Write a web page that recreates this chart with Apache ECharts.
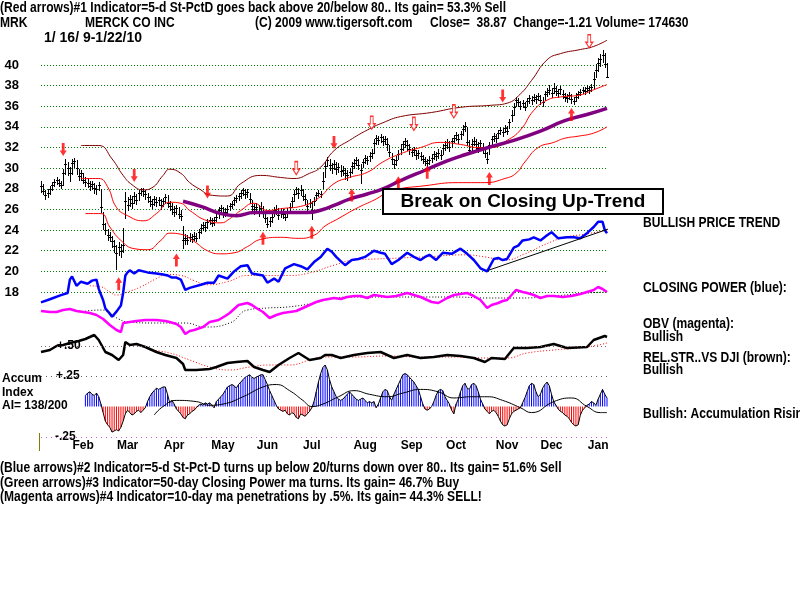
<!DOCTYPE html>
<html>
<head>
<meta charset="utf-8">
<script src="https://cdn.jsdelivr.net/npm/echarts@6/dist/echarts.min.js"></script>
<style>
  html, body { margin: 0; padding: 0; background: #fff; }
  #chart { width: 800px; height: 600px; }
</style>
</head>
<body>
<div id="chart"></div>
<script>
// MRK daily bars, 1/16/09 - 1/22/10 (256 trading days, index 0..255)
var closes = [
  28.3, 27.8, 27.4, 27.6, 28.0, 28.4, 28.7, 28.9, 28.6, 28.4,
  29.5, 30.4, 30.0, 29.5, 30.5, 30.7, 30.0, 29.2, 29.5, 28.9,
  28.7, 28.6, 28.3, 28.5, 28.1, 28.0, 28.4, 26.2, 24.6, 24.0,
  23.5, 23.3, 22.9, 22.5, 21.8, 22.4, 22.0, 22.6, 26.8, 26.4,
  27.0, 26.6, 27.3, 26.9, 27.6, 28.0, 27.8, 27.5, 27.2, 26.8,
  26.5, 27.0, 26.7, 26.9, 26.4, 26.8, 27.2, 26.6, 26.3, 26.0,
  25.8, 26.1, 25.6, 25.4, 23.0, 23.2, 23.0, 23.3, 23.1, 23.4,
  23.2, 23.8, 24.2, 24.5, 24.3, 24.8, 25.0, 24.7, 25.0, 25.3,
  25.9, 26.1, 25.7, 25.8, 26.0, 26.3, 26.5, 26.9, 27.1, 27.3,
  27.6, 27.9, 27.5, 27.7, 27.0, 26.3, 26.0, 26.2, 25.8, 26.1,
  25.7, 25.2, 24.6, 24.9, 25.3, 25.9, 26.0, 25.5, 25.8, 25.6,
  25.3, 25.8, 26.2, 26.8, 27.5, 28.0, 27.6, 27.9, 27.3, 27.0,
  26.3, 26.6, 25.9, 26.8, 27.4, 27.6, 27.5, 28.8, 30.2, 30.8,
  30.3, 30.0, 30.4, 29.9, 30.1, 29.7, 29.8, 29.5, 29.3, 29.6,
  30.2, 30.5, 30.8, 30.3, 29.8, 30.6, 31.0, 30.8, 31.2, 31.5,
  32.4, 32.9, 32.7, 33.0, 32.6, 32.8, 32.3, 31.6, 30.9, 30.4,
  30.8, 31.4, 31.9, 32.3, 32.6, 32.2, 31.9, 31.6, 31.8, 31.3,
  31.5, 31.2, 30.9, 30.7, 30.5, 30.8, 31.0, 31.4, 31.2, 31.5,
  31.3, 32.0, 32.2, 32.5, 32.1, 32.6, 32.9, 33.2, 32.8, 33.3,
  33.8, 34.1, 32.5, 31.8, 32.3, 32.6, 32.3, 32.0, 32.4, 31.9,
  31.5, 30.9, 32.2, 32.8, 33.1, 32.9, 33.4, 33.7, 33.5, 33.9,
  33.6, 34.5, 35.2, 35.9, 36.6, 36.4, 36.0, 36.3, 35.9, 36.5,
  36.8, 36.6, 36.9, 36.7, 37.0, 36.6, 36.4, 37.2, 37.4, 37.6,
  37.3, 37.8, 37.5, 37.3, 37.7, 37.2, 36.9, 36.8, 37.1, 36.7,
  36.5, 36.9, 37.2, 37.4, 37.6, 37.5, 37.8, 37.6, 37.9, 38.6,
  39.5, 40.2, 40.6, 41.0, 40.08, 38.87
];
var highs = [
  28.8, 28.5, 27.9, 28.0, 28.3, 28.7, 29.0, 29.1, 29.0, 28.8,
  29.9, 30.9, 30.6, 30.1, 30.9, 31.0, 30.8, 29.9, 29.8, 29.5,
  29.1, 29.0, 28.8, 28.8, 28.6, 28.4, 28.7, 28.0, 25.8, 24.7,
  24.1, 23.8, 23.4, 23.0, 22.6, 22.8, 22.7, 24.2, 27.7, 27.2,
  27.4, 27.3, 27.7, 27.5, 27.9, 28.1, 28.1, 27.9, 27.6, 27.3,
  27.0, 27.3, 27.2, 27.2, 27.0, 27.1, 27.5, 27.4, 26.8, 26.6,
  26.3, 26.4, 26.2, 25.9, 24.4, 23.6, 23.5, 23.7, 23.6, 23.8,
  23.7, 24.1, 24.6, 24.8, 24.8, 25.1, 25.3, 25.2, 25.3, 25.8,
  26.2, 26.4, 26.2, 26.1, 26.4, 26.6, 26.8, 27.2, 27.4, 27.6,
  27.9, 28.1, 28.0, 28.0, 27.6, 26.9, 26.5, 26.6, 26.4, 26.7,
  26.3, 25.8, 25.3, 25.3, 25.8, 26.2, 26.4, 26.1, 26.1, 26.0,
  25.8, 26.1, 26.6, 27.2, 27.9, 28.2, 28.1, 28.4, 28.0, 27.5,
  26.9, 27.0, 26.8, 27.2, 27.7, 27.9, 27.8, 29.6, 30.6, 31.1,
  30.9, 30.5, 30.8, 30.6, 30.5, 30.3, 30.2, 30.0, 29.8, 30.0,
  30.6, 30.9, 31.1, 30.9, 30.4, 30.9, 31.3, 31.2, 31.6, 31.9,
  32.8, 33.2, 33.1, 33.3, 33.1, 33.1, 32.9, 32.2, 31.5, 30.9,
  31.2, 31.8, 32.3, 32.6, 32.9, 32.7, 32.3, 32.0, 32.1, 31.8,
  31.8, 31.6, 31.3, 31.1, 30.9, 31.2, 31.4, 31.7, 31.6, 31.9,
  31.8, 32.3, 32.6, 32.8, 32.6, 32.9, 33.2, 33.5, 33.3, 33.6,
  34.2, 34.5, 34.0, 32.7, 32.8, 33.0, 32.8, 32.5, 32.7, 32.4,
  32.0, 31.6, 32.5, 33.1, 33.4, 33.3, 33.7, 34.0, 33.9, 34.2,
  34.1, 34.8, 35.6, 36.3, 36.9, 36.8, 36.5, 36.6, 36.4, 36.8,
  37.1, 37.0, 37.2, 37.1, 37.3, 37.1, 36.9, 37.5, 37.8, 38.1,
  37.8, 38.3, 38.0, 37.7, 38.0, 37.6, 37.3, 37.2, 37.4, 37.2,
  36.9, 37.3, 37.5, 37.7, 37.9, 37.9, 38.1, 38.0, 38.2, 39.3,
  40.1, 40.7, 41.1, 41.5, 41.2, 40.2
];
var lows = [
  27.7, 27.5, 27.0, 27.2, 27.5, 27.9, 28.3, 28.5, 28.3, 28.1,
  28.4, 29.4, 29.3, 28.8, 29.4, 30.1, 29.4, 28.9, 28.9, 28.6,
  28.3, 28.2, 27.9, 28.0, 27.6, 27.5, 27.9, 25.8, 24.1, 23.6,
  23.0, 22.9, 22.4, 21.9, 20.2, 21.6, 21.4, 21.9, 25.2, 25.9,
  26.3, 26.1, 26.6, 26.5, 26.9, 27.4, 27.3, 27.0, 26.7, 26.3,
  26.1, 26.4, 26.3, 26.4, 26.0, 26.3, 26.6, 26.2, 25.9, 25.6,
  25.4, 25.6, 25.2, 25.0, 22.3, 22.7, 22.7, 22.9, 22.8, 23.0,
  22.9, 23.2, 23.7, 24.0, 23.9, 24.2, 24.6, 24.4, 24.5, 24.9,
  25.2, 25.6, 25.3, 25.4, 25.6, 25.9, 26.1, 26.4, 26.7, 26.9,
  27.1, 27.4, 27.1, 27.2, 26.6, 25.9, 25.6, 25.8, 25.4, 25.7,
  25.3, 24.8, 24.3, 24.4, 24.8, 25.4, 25.6, 25.1, 25.3, 25.2,
  25.0, 25.3, 25.7, 26.2, 26.8, 27.5, 27.1, 27.4, 26.9, 26.5,
  25.9, 26.2, 25.1, 26.4, 26.9, 27.3, 27.2, 28.1, 29.1, 30.2,
  29.8, 29.5, 29.9, 29.4, 29.6, 29.2, 29.3, 29.0, 28.9, 29.1,
  29.5, 30.0, 30.3, 29.9, 28.6, 30.1, 30.5, 30.4, 30.7, 31.0,
  31.5, 32.3, 32.3, 32.5, 32.2, 32.3, 31.8, 31.2, 30.4, 30.0,
  30.3, 30.9, 31.4, 31.8, 32.1, 31.8, 31.4, 31.2, 31.3, 30.9,
  31.0, 30.8, 30.5, 30.3, 30.1, 30.4, 30.6, 30.9, 30.8, 31.0,
  30.9, 31.4, 31.8, 32.0, 31.7, 32.1, 32.5, 32.7, 32.4, 32.8,
  33.2, 33.6, 32.2, 31.5, 31.8, 32.2, 31.9, 31.6, 31.9, 31.5,
  31.1, 30.5, 31.4, 32.2, 32.6, 32.5, 32.9, 33.3, 33.1, 33.5,
  33.3, 33.9, 34.6, 35.2, 36.0, 36.0, 35.7, 35.9, 35.6, 36.0,
  36.3, 36.2, 36.5, 36.3, 36.6, 36.2, 36.0, 36.6, 37.0, 37.2,
  36.9, 37.3, 37.1, 36.9, 37.2, 36.8, 36.5, 36.4, 36.7, 36.3,
  36.2, 36.5, 36.8, 37.1, 37.3, 37.2, 37.4, 37.3, 37.5, 37.8,
  38.8, 39.4, 39.9, 40.3, 39.8, 38.8
];

// bands and moving average: [day, price]
var upperBand = [[18,32.2],[26,32.2],[32,30.9],[37,29.3],[41,28.4],[46,27.9],[50,28.1],[55,29.3],[58,29.9],[63,29.5],[67,28.6],[72,27.9],[76,27.4],[84,27.3],[90,28.5],[99,29.3],[108,29.1],[114,29.0],[121,29.5],[126,30.1],[132,31.7],[139,32.7],[147,33.7],[154,34.4],[162,35.0],[176,35.4],[189,35.9],[203,36.1],[210,36.3],[216,37.2],[221,38.5],[228,40.5],[234,41.1],[243,41.5],[249,41.8],[255,42.4]];
var middleBand = [[18,29.0],[26,29.0],[30,28.2],[34,26.2],[39,25.4],[46,24.9],[52,25.6],[58,26.7],[63,26.6],[67,25.9],[75,24.9],[81,24.7],[85,25.1],[90,25.9],[96,26.6],[102,25.9],[109,26.1],[117,26.3],[125,27.1],[132,28.5],[139,29.1],[147,29.6],[154,30.6],[162,31.4],[171,32.0],[180,32.5],[189,32.3],[197,32.0],[203,32.0],[210,32.7],[216,33.7],[222,35.6],[228,36.6],[234,36.9],[243,37.1],[249,37.6],[255,38.1]];
var lowerBand = [[20,25.6],[27,25.6],[31,24.3],[36,23.0],[42,22.2],[48,22.1],[54,23.0],[58,23.7],[63,23.6],[69,22.9],[75,22.0],[81,21.7],[87,21.8],[93,22.4],[99,23.1],[108,23.3],[116,23.2],[123,23.5],[128,24.4],[133,25.0],[143,26.2],[150,26.9],[158,27.8],[173,28.3],[188,28.6],[200,28.6],[209,29.0],[214,29.5],[218,30.6],[224,32.0],[231,32.5],[236,32.9],[242,33.1],[249,33.4],[255,34.0]];
var ma50 = [[64,26.8],[72,26.3],[81,25.6],[88,25.4],[96,25.7],[108,25.7],[120,25.7],[127,26.0],[132,26.4],[139,27.0],[147,27.5],[154,28.0],[162,28.8],[173,29.8],[183,30.7],[191,31.3],[203,32.1],[213,32.7],[225,33.6],[236,34.6],[246,35.2],[255,35.8]];

// closing power (blue) and its ma, price scale
var closingPower = [[0,17.0],[4,17.3],[9,17.7],[12,17.9],[13,19.2],[14,19.5],[16,18.6],[18,19.0],[21,18.8],[23,19.1],[25,19.2],[26,18.3],[28,17.2],[29,16.4],[31,15.9],[32,15.6],[34,16.1],[36,16.7],[37,17.9],[38,19.6],[39,19.9],[40,20.1],[42,19.8],[44,20.1],[48,19.9],[52,19.8],[55,19.7],[57,19.6],[59,19.4],[61,19.4],[63,19.2],[65,18.2],[67,18.4],[72,18.7],[75,18.9],[78,18.9],[80,19.6],[84,19.3],[87,20.0],[90,20.5],[93,20.6],[95,19.8],[100,19.6],[102,18.9],[105,19.3],[107,19.0],[110,20.3],[114,20.7],[117,20.5],[120,20.2],[123,20.9],[126,21.4],[129,22.2],[131,21.9],[133,21.4],[135,21.0],[137,20.6],[140,21.1],[143,21.2],[146,21.4],[150,22.0],[153,21.8],[155,21.7],[158,20.7],[161,21.1],[165,21.8],[168,21.4],[171,21.1],[173,21.4],[175,21.6],[178,21.1],[181,21.8],[185,21.7],[189,22.2],[192,21.7],[195,21.1],[198,20.3],[201,20.0],[204,21.2],[206,21.3],[208,21.1],[210,21.2],[213,22.3],[215,22.5],[217,23.0],[220,23.1],[222,23.3],[225,23.0],[228,23.5],[230,23.8],[233,23.2],[237,23.3],[240,23.3],[243,23.2],[246,23.7],[249,24.3],[251,24.8],[253,24.8],[254,24.0],[255,23.7]];
var cpMa = [[22,18.6],[27,18.5],[31,18.0],[34,17.7],[39,18.0],[45,18.5],[52,19.3],[57,19.7],[63,19.6],[69,19.1],[75,18.7],[84,19.0],[93,19.6],[102,19.6],[111,19.6],[120,19.8],[132,20.6],[141,21.1],[151,21.2],[173,21.4],[191,21.6],[200,21.4],[209,21.1],[218,21.7],[227,22.6],[236,23.3],[245,23.6],[255,24.0]];
var trendLine = [[201.5,20.1],[265,24.8]];

// arrows: [day, price]
var downArrows = [[10,31.8],[42,29.3],[75,27.7],[132,32.5],[208,37.0]];
var downArrowsOpen = [[115,30.0],[149,34.4],[168,34.3],[186,35.5],[247,42.3]];
var upArrows = [[35,18.8],[61,21.1],[100,23.2],[122,23.8],[140,27.4],[161,28.6],[174,29.6],[202,29.0],[239,35.2]];

// OBV (magenta) and ma, panel units
var obv = [[0,29],[4,28],[7,28],[10,30],[13,31],[16,29],[19,28],[22,27],[25,25],[28,21],[31,15],[34,10],[36,8],[37,17],[40,18],[43,19],[47,20],[50,20],[52,20],[56,19],[58,18],[61,16],[63,13],[65,6],[67,9],[69,10],[73,13],[76,18],[80,20],[83,24],[85,27],[89,35],[93,37],[95,35],[97,32],[100,28],[103,22],[106,25],[109,27],[112,28],[115,29],[118,32],[121,35],[124,38],[127,40],[132,42],[135,41],[138,43],[141,44],[144,44],[147,42],[150,45],[153,44],[156,43],[160,44],[165,47],[168,45],[171,43],[174,40],[176,38],[179,37],[183,42],[186,45],[189,46],[192,47],[195,44],[198,40],[201,32],[203,35],[206,37],[208,39],[210,40],[214,50],[217,48],[219,47],[222,45],[225,42],[228,44],[231,44],[235,43],[239,44],[243,46],[246,48],[249,50],[251,53],[253,51],[255,48]];
var obvMa = [[20,29],[27,30],[35,21],[39,18],[51,17],[65,17],[74,13],[85,17],[93,30],[102,32],[111,33],[123,37],[132,42],[141,43],[156,43],[171,43],[186,43],[201,42],[216,42],[231,44],[246,47],[255,48]];

// relative strength vs DJI (black) and ma, panel units
var relStr = [[0,28],[4,30],[7,34],[10,35],[13,37],[17,39],[20,41],[24,45],[26,40],[28,32],[29,28],[32,25],[35,20],[37,25],[38,38],[40,35],[43,36],[47,33],[52,28],[56,25],[61,22],[64,16],[65,10],[70,10],[76,11],[79,13],[84,17],[88,18],[93,19],[96,13],[100,10],[103,8],[107,15],[112,22],[116,27],[121,20],[126,22],[128,25],[131,25],[135,22],[141,25],[147,27],[153,28],[159,22],[165,25],[171,22],[177,23],[183,25],[189,24],[195,22],[200,18],[203,22],[209,21],[213,32],[219,32],[225,33],[231,36],[237,32],[246,33],[249,40],[254,44],[255,43]];
var relStrMa = [[49,30],[58,27],[67,20],[76,13],[85,10],[94,13],[103,15],[112,15],[121,20],[127,23],[141,23],[156,24],[171,23],[186,23],[201,22],[210,22],[219,27],[231,30],[246,33],[255,37]];

// accumulation index, one value per day
var accum = [
  null, null, null, null, null, null, null, null, null, null,
  null, null, null, null, null, null, null, null, null, null,
  0.09, 0.11, 0.12, 0.10, 0.09, 0.11, 0.08, 0.02, -0.05, -0.12,
  -0.15, -0.17, -0.21, -0.20, -0.19, -0.20, -0.17, -0.12, -0.06, -0.03,
  -0.05, -0.07, -0.06, -0.04, -0.03, -0.05, -0.03, -0.01, 0.04, 0.08,
  0.11, 0.13, 0.15, 0.14, 0.15, 0.16, 0.16, 0.10, 0.03, 0.05,
  0.02, -0.02, -0.04, -0.06, -0.09, -0.10, -0.07, -0.06, -0.04, -0.03,
  -0.01, 0.01, 0.02, 0.01, 0.03, 0.02, 0.03, 0.01, -0.01, 0.04,
  0.06, 0.08, 0.10, 0.13, 0.16, 0.17, 0.18, 0.17, 0.15, 0.18,
  0.20, 0.22, 0.24, 0.25, 0.26, 0.24, 0.23, 0.24, 0.25, 0.26,
  0.26, 0.22, 0.18, 0.13, 0.09, 0.05, 0.01, -0.02, -0.03, -0.04,
  -0.03, -0.06, -0.07, -0.05, -0.06, -0.09, -0.10, -0.06, -0.07, -0.08,
  -0.06, -0.04, -0.01, 0.04, 0.12, 0.20, 0.27, 0.32, 0.34, 0.30,
  0.22, 0.16, 0.12, 0.08, 0.06, 0.05, 0.06, 0.08, 0.10, 0.12,
  0.10, 0.08, 0.06, 0.05, 0.06, 0.07, 0.05, 0.03, 0.04, 0.03,
  0.04, -0.01, 0.02, 0.07, 0.12, 0.14, 0.13, 0.08, 0.05, 0.10,
  0.14, 0.18, 0.22, 0.26, 0.27, 0.26, 0.24, 0.22, 0.20, 0.17,
  0.14, 0.08, 0.02, -0.02, -0.03, -0.02, 0.00, 0.04, 0.09, 0.13,
  0.14, 0.13, 0.08, 0.05, 0.02, -0.03, -0.06, 0.02, 0.06, 0.12,
  0.17, 0.19, 0.15, 0.14, 0.18, 0.19, 0.17, 0.12, 0.06, 0.02,
  -0.02, -0.04, -0.06, -0.04, -0.03, -0.05, -0.08, -0.12, -0.15, -0.16,
  -0.15, -0.10, -0.06, -0.04, -0.03, -0.02, -0.01, 0.03, 0.07, 0.12,
  0.17, 0.19, 0.18, 0.12, 0.08, 0.10, 0.15, 0.18, 0.20, 0.17,
  0.10, 0.04, 0.01, -0.02, -0.04, -0.05, -0.07, -0.08, -0.10, -0.13,
  -0.15, -0.16, -0.15, -0.07, -0.03, -0.01, 0.01, 0.02, 0.04, 0.03,
  0.01, 0.06, 0.10, 0.14, 0.10, 0.07
];
var accumMa = [[51,-0.07],[55,0.0],[61,0.05],[70,0.04],[76,0.01],[82,0.02],[91,0.08],[100,0.16],[106,0.18],[112,0.13],[118,0.05],[122,0.0],[127,0.02],[134,0.08],[141,0.13],[148,0.10],[156,0.08],[163,0.11],[171,0.14],[179,0.12],[186,0.07],[194,0.08],[201,0.08],[208,0.05],[216,-0.01],[221,-0.05],[231,0.04],[239,0.07],[246,0.0],[252,-0.05],[255,-0.05]];

var priceTicks = [18, 40];
var monthNames = ['Feb', 'Mar', 'Apr', 'May', 'Jun', 'Jul', 'Aug', 'Sep', 'Oct', 'Nov', 'Dec', 'Jan'];
var monthDays = [19, 39, 60, 82, 102, 122, 146, 167, 187, 210, 230, 251];

var SANS = '"Liberation Sans",Arial,sans-serif';
var F_NARROW = 'bold 14px ' + SANS;   // squeezed horizontally below
var F_LBL = 'bold 12px ' + SANS;

var titleLine = '(Red arrows)#1 Indicator=5-d St-PctD goes back above 20/below 80.. Its gain= 53.3% Sell';

// narrow look: squeeze the bold face so the first line spans ~506px
var measure = document.createElement('canvas').getContext('2d');
measure.font = F_NARROW;
var squeeze = 506 / measure.measureText(titleLine).width;

var dayLabels = closes.map(function () { return ''; });
monthNames.forEach(function (m, i) { dayLabels[monthDays[i]] = m; });

var bars = closes.map(function (c, i) { return [i, highs[i], lows[i], c]; });

function drawBar(params, api) {
  var hi = api.coord([api.value(0), api.value(1)]);
  var lo = api.coord([api.value(0), api.value(2)]);
  var cl = api.coord([api.value(0), api.value(3)]);
  var x = Math.round(hi[0]) + 0.5;
  var yc = Math.round(cl[1]) + 0.5;
  return {
    type: 'group',
    children: [
      { type: 'line', shape: { x1: x, y1: Math.round(hi[1]), x2: x, y2: Math.round(lo[1]) + 1 }, style: { stroke: '#000', lineWidth: 1 } },
      { type: 'line', shape: { x1: x - 1.5, y1: yc, x2: x + 1.5, y2: yc }, style: { stroke: '#000', lineWidth: 1 } }
    ]
  };
}

function txt(x, y, s, font, align, sx) {
  return { type: 'text', x: x, y: y, scaleX: sx || 1, silent: true, z: 100,
    style: { text: s, font: font, fill: '#000', align: align || 'left', verticalAlign: 'middle' } };
}
function ntxt(x, y, s) { return txt(x, y, s, F_NARROW, 'left', squeeze); }

var downPath = 'path://M3,0 L7,0 L7,8 L10,8 L5,14 L0,8 L3,8 Z';
var upPath = 'path://M5,0 L10,6 L7,6 L7,14 L3,14 L3,6 L0,6 Z';

var L = 41, R = 193;
function hiddenX(g) { return { gridIndex: g, type: 'value', min: 0, max: 255, show: false }; }

var chart = echarts.init(document.getElementById('chart'), null, { renderer: 'canvas' });
chart.setOption({
  animation: false,
  backgroundColor: '#fff',
  grid: [
    { left: L, right: R, top: 65, height: 227 },
    { left: L, right: R, top: 280, height: 60 },
    { left: L, right: R, top: 320, height: 60 },
    { left: L, right: R, top: 376, height: 61 }
  ],
  xAxis: [
    hiddenX(0), hiddenX(1), hiddenX(2),
    { gridIndex: 3, type: 'category', data: dayLabels, boundaryGap: false,
      axisLine: { show: false, onZero: false }, axisTick: { show: false },
      axisLabel: { interval: 0, margin: 3, color: '#000', fontWeight: 'bold', fontSize: 12, fontFamily: SANS } }
  ],
  yAxis: [
    { gridIndex: 0, type: 'value', min: priceTicks[0], max: priceTicks[1], interval: 2,
      axisLine: { show: false }, axisTick: { show: false },
      axisLabel: { margin: 22, color: '#000', fontWeight: 'bold', fontSize: 13, fontFamily: SANS },
      splitLine: { lineStyle: { color: '#008000', width: 1, type: [1, 2] } } },
    { gridIndex: 1, type: 'value', min: 0, max: 60, show: false },
    { gridIndex: 2, type: 'value', min: 0, max: 60, show: false },
    { gridIndex: 3, type: 'value', min: -0.25, max: 0.25, show: false }
  ],
  series: [
    { type: 'line', data: upperBand, smooth: true, symbol: 'none', clip: false, silent: true,
      lineStyle: { color: '#800000', width: 1 } },
    { type: 'line', data: middleBand, smooth: true, symbol: 'none', clip: false, silent: true,
      lineStyle: { color: '#ff0000', width: 1 } },
    { type: 'line', data: lowerBand, smooth: true, symbol: 'none', clip: false, silent: true,
      lineStyle: { color: '#ff0000', width: 1 } },
    { type: 'line', data: ma50, smooth: true, symbol: 'none', clip: false, silent: true,
      lineStyle: { color: '#800080', width: 3.5 } },
    { type: 'custom', data: bars, renderItem: drawBar, encode: { x: 0, y: [1, 2, 3] }, clip: false, silent: true, z: 3 },
    { type: 'line', data: cpMa, smooth: true, symbol: 'none', clip: false, silent: true,
      lineStyle: { color: '#ff0000', width: 1, type: [1, 2] } },
    { type: 'line', data: closingPower, symbol: 'none', clip: false, silent: true,
      lineStyle: { color: '#0000ff', width: 2.5 } },
    { type: 'line', data: trendLine, symbol: 'none', clip: false, silent: true,
      lineStyle: { color: '#000', width: 1 } },
    { type: 'scatter', data: downArrows, symbol: downPath, symbolSize: [7, 13], clip: false, silent: true, z: 4,
      itemStyle: { color: '#ff0000' } },
    { type: 'scatter', data: downArrowsOpen, symbol: downPath, symbolSize: [7, 13], clip: false, silent: true, z: 4,
      itemStyle: { color: '#fff', borderColor: '#ff0000', borderWidth: 1.2 } },
    { type: 'scatter', data: upArrows, symbol: upPath, symbolSize: [7, 13], clip: false, silent: true, z: 4,
      itemStyle: { color: '#ff0000' } },

    { type: 'line', xAxisIndex: 1, yAxisIndex: 1, data: obvMa, smooth: true, symbol: 'none', clip: false, silent: true,
      lineStyle: { color: '#000', width: 1, type: [1, 2] } },
    { type: 'line', xAxisIndex: 1, yAxisIndex: 1, data: obv, symbol: 'none', clip: false, silent: true,
      lineStyle: { color: '#ff00ff', width: 2.5 } },

    { type: 'line', xAxisIndex: 2, yAxisIndex: 2, data: relStrMa, smooth: true, symbol: 'none', clip: false, silent: true,
      lineStyle: { color: '#ff0000', width: 1, type: [1, 2] },
      markLine: { silent: true, symbol: 'none', label: { show: false },
        lineStyle: { color: '#806060', width: 1, type: [1, 3] }, data: [{ yAxis: 34 }] } },
    { type: 'line', xAxisIndex: 2, yAxisIndex: 2, data: relStr, symbol: 'none', clip: false, silent: true,
      lineStyle: { color: '#000', width: 2.5 } },

    { type: 'bar', xAxisIndex: 3, yAxisIndex: 3, data: accum, barWidth: 1, clip: false, silent: true,
      itemStyle: { color: function (p) { return p.value >= 0 ? '#0000ff' : '#ff0000'; } },
      markLine: { silent: true, symbol: 'none', label: { show: false },
        data: [
          { yAxis: 0.25, lineStyle: { color: '#606060', width: 1, type: [1, 4] } },
          { yAxis: -0.25, lineStyle: { color: '#c060c0', width: 1, type: [1, 4] } }
        ] } },
    { type: 'line', xAxisIndex: 3, yAxisIndex: 3, data: accum, symbol: 'none', clip: false, silent: true,
      lineStyle: { color: '#000', width: 1 } },
    { type: 'line', xAxisIndex: 3, yAxisIndex: 3, data: accumMa, smooth: true, symbol: 'none', clip: false, silent: true,
      lineStyle: { color: '#000', width: 1 } }
  ],
  graphic: [
    ntxt(0, 8, titleLine),
    ntxt(0, 23, 'MRK'),
    ntxt(85, 23, 'MERCK CO INC'),
    ntxt(255, 23, '(C) 2009 www.tigersoft.com'),
    ntxt(430, 23, 'Close=  38.87  Change=-1.21 Volume= 174630'),
    txt(44, 38, '1/ 16/ 9-1/22/10', 'bold 14px ' + SANS),

    { type: 'rect', shape: { x: 383, y: 189, width: 280, height: 25 }, z: 99, silent: true,
      style: { fill: '#fff', stroke: '#000', lineWidth: 2 } },
    txt(523, 202, 'Break on Closing Up-Trend', 'bold 19px ' + SANS, 'center'),

    ntxt(643, 223, 'BULLISH PRICE TREND'),
    ntxt(643, 288, 'CLOSING POWER (blue):'),
    ntxt(643, 324, 'OBV (magenta):'),
    ntxt(643, 337, 'Bullish'),
    ntxt(643, 358, 'REL.STR..VS DJI (brown):'),
    ntxt(643, 370, 'Bullish'),
    ntxt(643, 414, 'Bullish: Accumulation Rising'),

    txt(57, 346, '+.50', F_LBL),
    txt(56, 376, '+.25', F_LBL),
    txt(55, 437, '-.25', F_LBL),
    txt(2, 379, 'Accum', F_LBL),
    txt(2, 393, 'Index', F_LBL),
    txt(2, 406, 'AI= 138/200', F_LBL),
    { type: 'line', shape: { x1: 39.5, y1: 433, x2: 39.5, y2: 451 }, silent: true,
      style: { stroke: '#808000', lineWidth: 1 } },

    ntxt(0, 468, '(Blue arrows)#2 Indicator=5-d St-Pct-D turns up below 20/turns down over 80.. Its gain= 51.6% Sell'),
    ntxt(0, 483, '(Green arrows)#3 Indicator=50-day Closing Power ma turns. Its gain= 46.7% Buy'),
    ntxt(0, 497, '(Magenta arrows)#4 Indicator=10-day ma penetrations by .5%. Its gain= 44.3% SELL!')
  ]
});
</script>
</body>
</html>
